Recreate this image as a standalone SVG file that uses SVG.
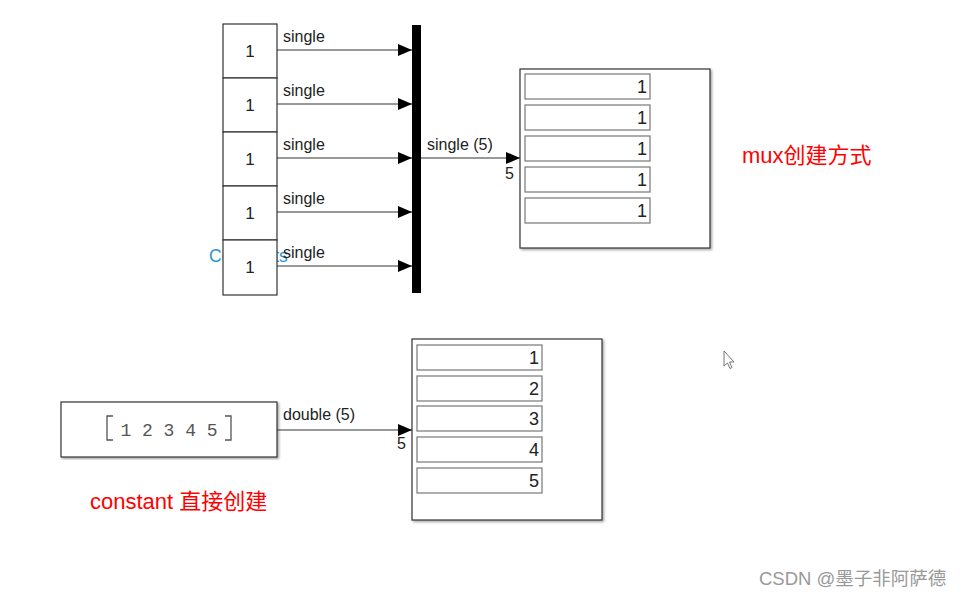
<svg xmlns="http://www.w3.org/2000/svg" width="966" height="598" viewBox="0 0 966 598">
<defs>
<marker id="arr" markerWidth="14" markerHeight="12" refX="14" refY="6" orient="auto" markerUnits="userSpaceOnUse">
<path d="M0,0 L14,6 L0,12 Z" fill="#000"/>
</marker>
<filter id="sh" x="-5%" y="-5%" width="110%" height="110%">
<feDropShadow dx="1.5" dy="1.5" stdDeviation="1" flood-color="#000" flood-opacity="0.35"/>
</filter>
</defs>
<style>
.blk{fill:#fff;stroke:#333;stroke-width:1.2}
.disp{fill:#fff;stroke:#333;stroke-width:1.2}
.fld{fill:#fff;stroke:#777;stroke-width:1.2}
.lbl{font-family:"Liberation Sans",Arial,sans-serif;font-size:16px;fill:#222}
.val{font-family:"Liberation Sans",Arial,sans-serif;font-size:18px;fill:#222;text-anchor:end}
.cv{font-family:"Liberation Sans",Arial,sans-serif;font-size:17px;fill:#222;text-anchor:middle}
.red{font-family:"Liberation Sans","Noto Sans CJK SC",sans-serif;font-size:22px;fill:#f00}
.ln{stroke:#333;stroke-width:1;fill:none;marker-end:url(#arr)}
</style>
<rect width="966" height="598" fill="#fff"/>

<text x="209" y="262" font-family="Liberation Sans,Arial,sans-serif" font-size="17.5" fill="#2a93d5">Constants</text>

<g id="const1"><rect class="blk" x="223" y="24" width="54" height="54"/><text class="cv" x="250" y="57">1</text></g>
<g id="const2"><rect class="blk" x="223" y="78" width="54" height="54"/><text class="cv" x="250" y="111">1</text></g>
<g id="const3"><rect class="blk" x="223" y="132" width="54" height="54"/><text class="cv" x="250" y="165">1</text></g>
<g id="const4"><rect class="blk" x="223" y="186" width="54" height="54"/><text class="cv" x="250" y="219">1</text></g>
<g id="const5"><rect class="blk" x="223" y="240" width="54" height="55"/><text class="cv" x="250" y="273">1</text></g>

<g id="mux"><rect x="412" y="25" width="9" height="268" fill="#000"/></g>

<g id="display1">
<rect class="disp" x="520" y="69" width="190" height="179" filter="url(#sh)"/>
<rect class="fld" x="525" y="74" width="125" height="25"/><text class="val" x="647" y="93">1</text>
<rect class="fld" x="525" y="105" width="125" height="25"/><text class="val" x="647" y="124">1</text>
<rect class="fld" x="525" y="136" width="125" height="25"/><text class="val" x="647" y="155">1</text>
<rect class="fld" x="525" y="167" width="125" height="25"/><text class="val" x="647" y="186">1</text>
<rect class="fld" x="525" y="198" width="125" height="25"/><text class="val" x="647" y="217">1</text>
</g>

<g id="constant">
<rect class="blk" x="61" y="402" width="216" height="55" filter="url(#sh)"/>
<text x="169" y="436" font-family="Liberation Mono,Courier New,monospace" font-size="18" fill="#555" text-anchor="middle">1 2 3 4 5</text>
<path d="M113,416 H107 V440 H113 M225,416 H231 V440 H225" fill="none" stroke="#555" stroke-width="1.3"/>
</g>

<g id="display2">
<rect class="disp" x="412" y="339" width="190" height="181" filter="url(#sh)"/>
<rect class="fld" x="417" y="345" width="125" height="25"/><text class="val" x="539" y="364">1</text>
<rect class="fld" x="417" y="376" width="125" height="25"/><text class="val" x="539" y="395">2</text>
<rect class="fld" x="417" y="406" width="125" height="25"/><text class="val" x="539" y="425">3</text>
<rect class="fld" x="417" y="437" width="125" height="25"/><text class="val" x="539" y="456">4</text>
<rect class="fld" x="417" y="468" width="125" height="25"/><text class="val" x="539" y="487">5</text>
</g>

<g id="connectors">
<line class="ln" x1="277" y1="50" x2="412" y2="50"/>
<line class="ln" x1="277" y1="104" x2="412" y2="104"/>
<line class="ln" x1="277" y1="158" x2="412" y2="158"/>
<line class="ln" x1="277" y1="212" x2="412" y2="212"/>
<line class="ln" x1="277" y1="266" x2="412" y2="266"/>
<line class="ln" x1="421" y1="158" x2="520" y2="158"/>
<line class="ln" x1="277" y1="430" x2="412" y2="430"/>
<text class="lbl" x="283" y="42">single</text>
<text class="lbl" x="283" y="96">single</text>
<text class="lbl" x="283" y="150">single</text>
<text class="lbl" x="283" y="204">single</text>
<text class="lbl" x="283" y="258">single</text>
<text class="lbl" x="427" y="150">single (5)</text>
<text class="lbl" x="505" y="179">5</text>
<text class="lbl" x="283" y="420">double (5)</text>
<text class="lbl" x="397" y="449">5</text>
</g>

<text class="red" x="742" y="163">mux创建方式</text>
<text class="red" x="90" y="509">constant 直接创建</text>

<path d="M724,351 V366 L727.5,363 L730,368.5 L732,367.5 L729.5,362 L734,362 Z" fill="#fff" stroke="#777" stroke-width="1"/>

<text x="759" y="585" font-family="Liberation Sans,'Noto Sans CJK SC',sans-serif" font-size="18.5" fill="#999">CSDN @墨子非阿萨德</text>
</svg>
